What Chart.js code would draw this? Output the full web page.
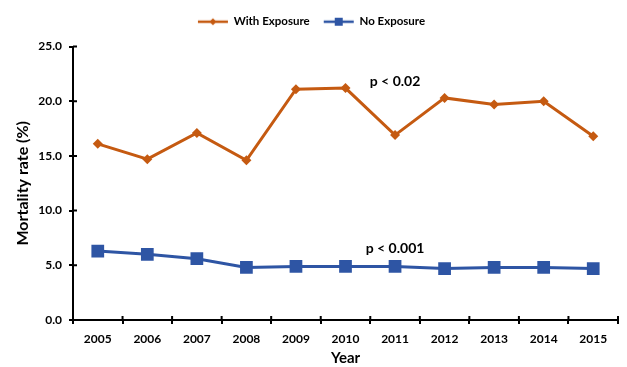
<!DOCTYPE html>
<html>
<head>
<meta charset="utf-8">
<title>Mortality rate by year</title>
<script src="https://cdn.jsdelivr.net/npm/chart.js@4/dist/chart.umd.min.js"></script>
<style>
  html, body { margin: 0; padding: 0; background: #fff; }
  #wrap { width: 627px; height: 367px; position: relative; }
</style>
</head>
<body>
<div id="wrap"><canvas id="mortalityChart"></canvas></div>
<script>
// Jahre und Sterblichkeit (%)
const years = ['2005', '2006', '2007', '2008', '2009', '2010', '2011', '2012', '2013', '2014', '2015'];
const withExposure = [16.1, 14.7, 17.1, 14.6, 21.1, 21.2, 16.9, 20.3, 19.7, 20.0, 16.8];
const noExposure = [6.3, 6.0, 5.6, 4.8, 4.9, 4.9, 4.9, 4.7, 4.8, 4.8, 4.7];

// p-Werte, an Kategorie und Wert verankert
const noteTexts = ['p < 0.02', 'p < 0.001'];
const noteYears = ['2011', '2011'];
const noteValues = [21.8, 6.5];

const ORANGE = '#C55A11';
const BLUE = '#2E55A4';
const FONT = 'Lato, "Open Sans", sans-serif';

// Legendensymbol: Linie mit Marker in der Mitte (breiter als die Box, damit die Linie bis an den Text reicht)
function legendSample(color, marker) {
  const c = document.createElement('canvas');
  c.width = 40;
  c.height = 12;
  const g = c.getContext('2d');
  g.strokeStyle = color;
  g.fillStyle = color;
  g.lineWidth = 2.5;
  g.beginPath();
  g.moveTo(5, 6);
  g.lineTo(35, 6);
  g.stroke();
  g.beginPath();
  if (marker === 'diamond') {
    g.moveTo(20, 2.5); g.lineTo(23.5, 6); g.lineTo(20, 9.5); g.lineTo(16.5, 6);
  } else {
    g.rect(16, 2, 8, 8);
  }
  g.closePath();
  g.fill();
  return c;
}

// etwas mehr Abstand unter der Legende
const legendGap = {
  id: 'legendGap',
  beforeInit(chart) {
    const fit = chart.legend.fit;
    chart.legend.fit = function () {
      fit.call(this);
      this.height += 9;
    };
  }
};

// Achsenstriche auch nach innen zeichnen
const crossTicks = {
  id: 'crossTicks',
  afterDraw(chart) {
    const { ctx, scales: { x, y }, chartArea } = chart;
    ctx.save();
    ctx.strokeStyle = '#000';
    ctx.lineWidth = 2;
    ctx.beginPath();
    y.ticks.forEach((t, i) => {
      const py = y.getPixelForTick(i);
      ctx.moveTo(chartArea.left, py);
      ctx.lineTo(chartArea.left + 4, py);
    });
    for (let i = 0; i <= years.length; i++) {
      const px = x.getPixelForValue(i - 0.5);
      ctx.moveTo(px, chartArea.bottom);
      ctx.lineTo(px, chartArea.bottom - 4);
    }
    ctx.stroke();
    ctx.restore();
  }
};

const pNotes = {
  id: 'pNotes',
  afterDatasetsDraw(chart) {
    const { ctx, scales: { x, y } } = chart;
    ctx.save();
    ctx.fillStyle = '#000';
    ctx.font = 'bold 14px ' + FONT;
    ctx.textAlign = 'center';
    ctx.textBaseline = 'middle';
    noteTexts.forEach((t, i) => {
      ctx.fillText(t, x.getPixelForValue(years.indexOf(noteYears[i])), y.getPixelForValue(noteValues[i]));
    });
    ctx.restore();
  }
};

new Chart(document.getElementById('mortalityChart'), {
  type: 'line',
  data: {
    labels: years,
    datasets: [
      {
        label: 'With Exposure',
        data: withExposure,
        borderColor: ORANGE,
        backgroundColor: ORANGE,
        borderWidth: 3,
        pointStyle: 'rectRot',
        pointRadius: 5,
        pointBorderWidth: 0,
        tension: 0
      },
      {
        label: 'No Exposure',
        data: noExposure,
        borderColor: BLUE,
        backgroundColor: BLUE,
        borderWidth: 3,
        pointStyle: 'rect',
        pointRadius: 9,
        pointBorderWidth: 0,
        tension: 0
      }
    ]
  },
  options: {
    responsive: true,
    maintainAspectRatio: false,
    animation: false,
    layout: { padding: { top: 2, right: 4, left: 0, bottom: 0 } },
    plugins: {
      tooltip: { enabled: false },
      legend: {
        position: 'top',
        labels: {
          usePointStyle: true,
          pointStyleWidth: 30,
          color: '#000',
          padding: 14,
          font: { family: FONT, size: 11.5, weight: 'bold' },
          generateLabels(chart) {
            return chart.data.datasets.map((ds, i) => ({
              text: ds.label,
              fontColor: '#000',
              pointStyle: legendSample(ds.borderColor, i === 0 ? 'diamond' : 'square'),
              lineWidth: 0,
              strokeStyle: 'transparent',
              fillStyle: 'transparent',
              datasetIndex: i
            }));
          }
        }
      }
    },
    scales: {
      x: {
        offset: true,
        border: { color: '#000', width: 2 },
        grid: { offset: true, drawOnChartArea: false, color: '#000', lineWidth: 2, tickLength: 4 },
        ticks: { color: '#000', padding: 8, font: { family: FONT, size: 12, weight: 'bold' } },
        title: {
          display: true, text: 'Year', color: '#000',
          padding: { top: 0, bottom: 0 },
          font: { family: FONT, size: 15, weight: 'bold' }
        },
        afterFit(scale) { scale.height = 47; }
      },
      y: {
        min: 0,
        max: 25,
        border: { color: '#000', width: 2 },
        grid: { drawOnChartArea: false, color: '#000', lineWidth: 2, tickLength: 4 },
        ticks: {
          stepSize: 5, color: '#000', padding: 7,
          font: { family: FONT, size: 12, weight: 'bold' },
          callback: v => v.toFixed(1)
        },
        title: {
          display: true, text: 'Mortality rate (%)', color: '#000',
          padding: { top: 13, bottom: 0 },
          font: { family: FONT, size: 16, weight: 'bold' }
        },
        afterFit(scale) { scale.width = 73; }
      }
    }
  },
  plugins: [legendGap, crossTicks, pNotes]
});
</script>
</body>
</html>
